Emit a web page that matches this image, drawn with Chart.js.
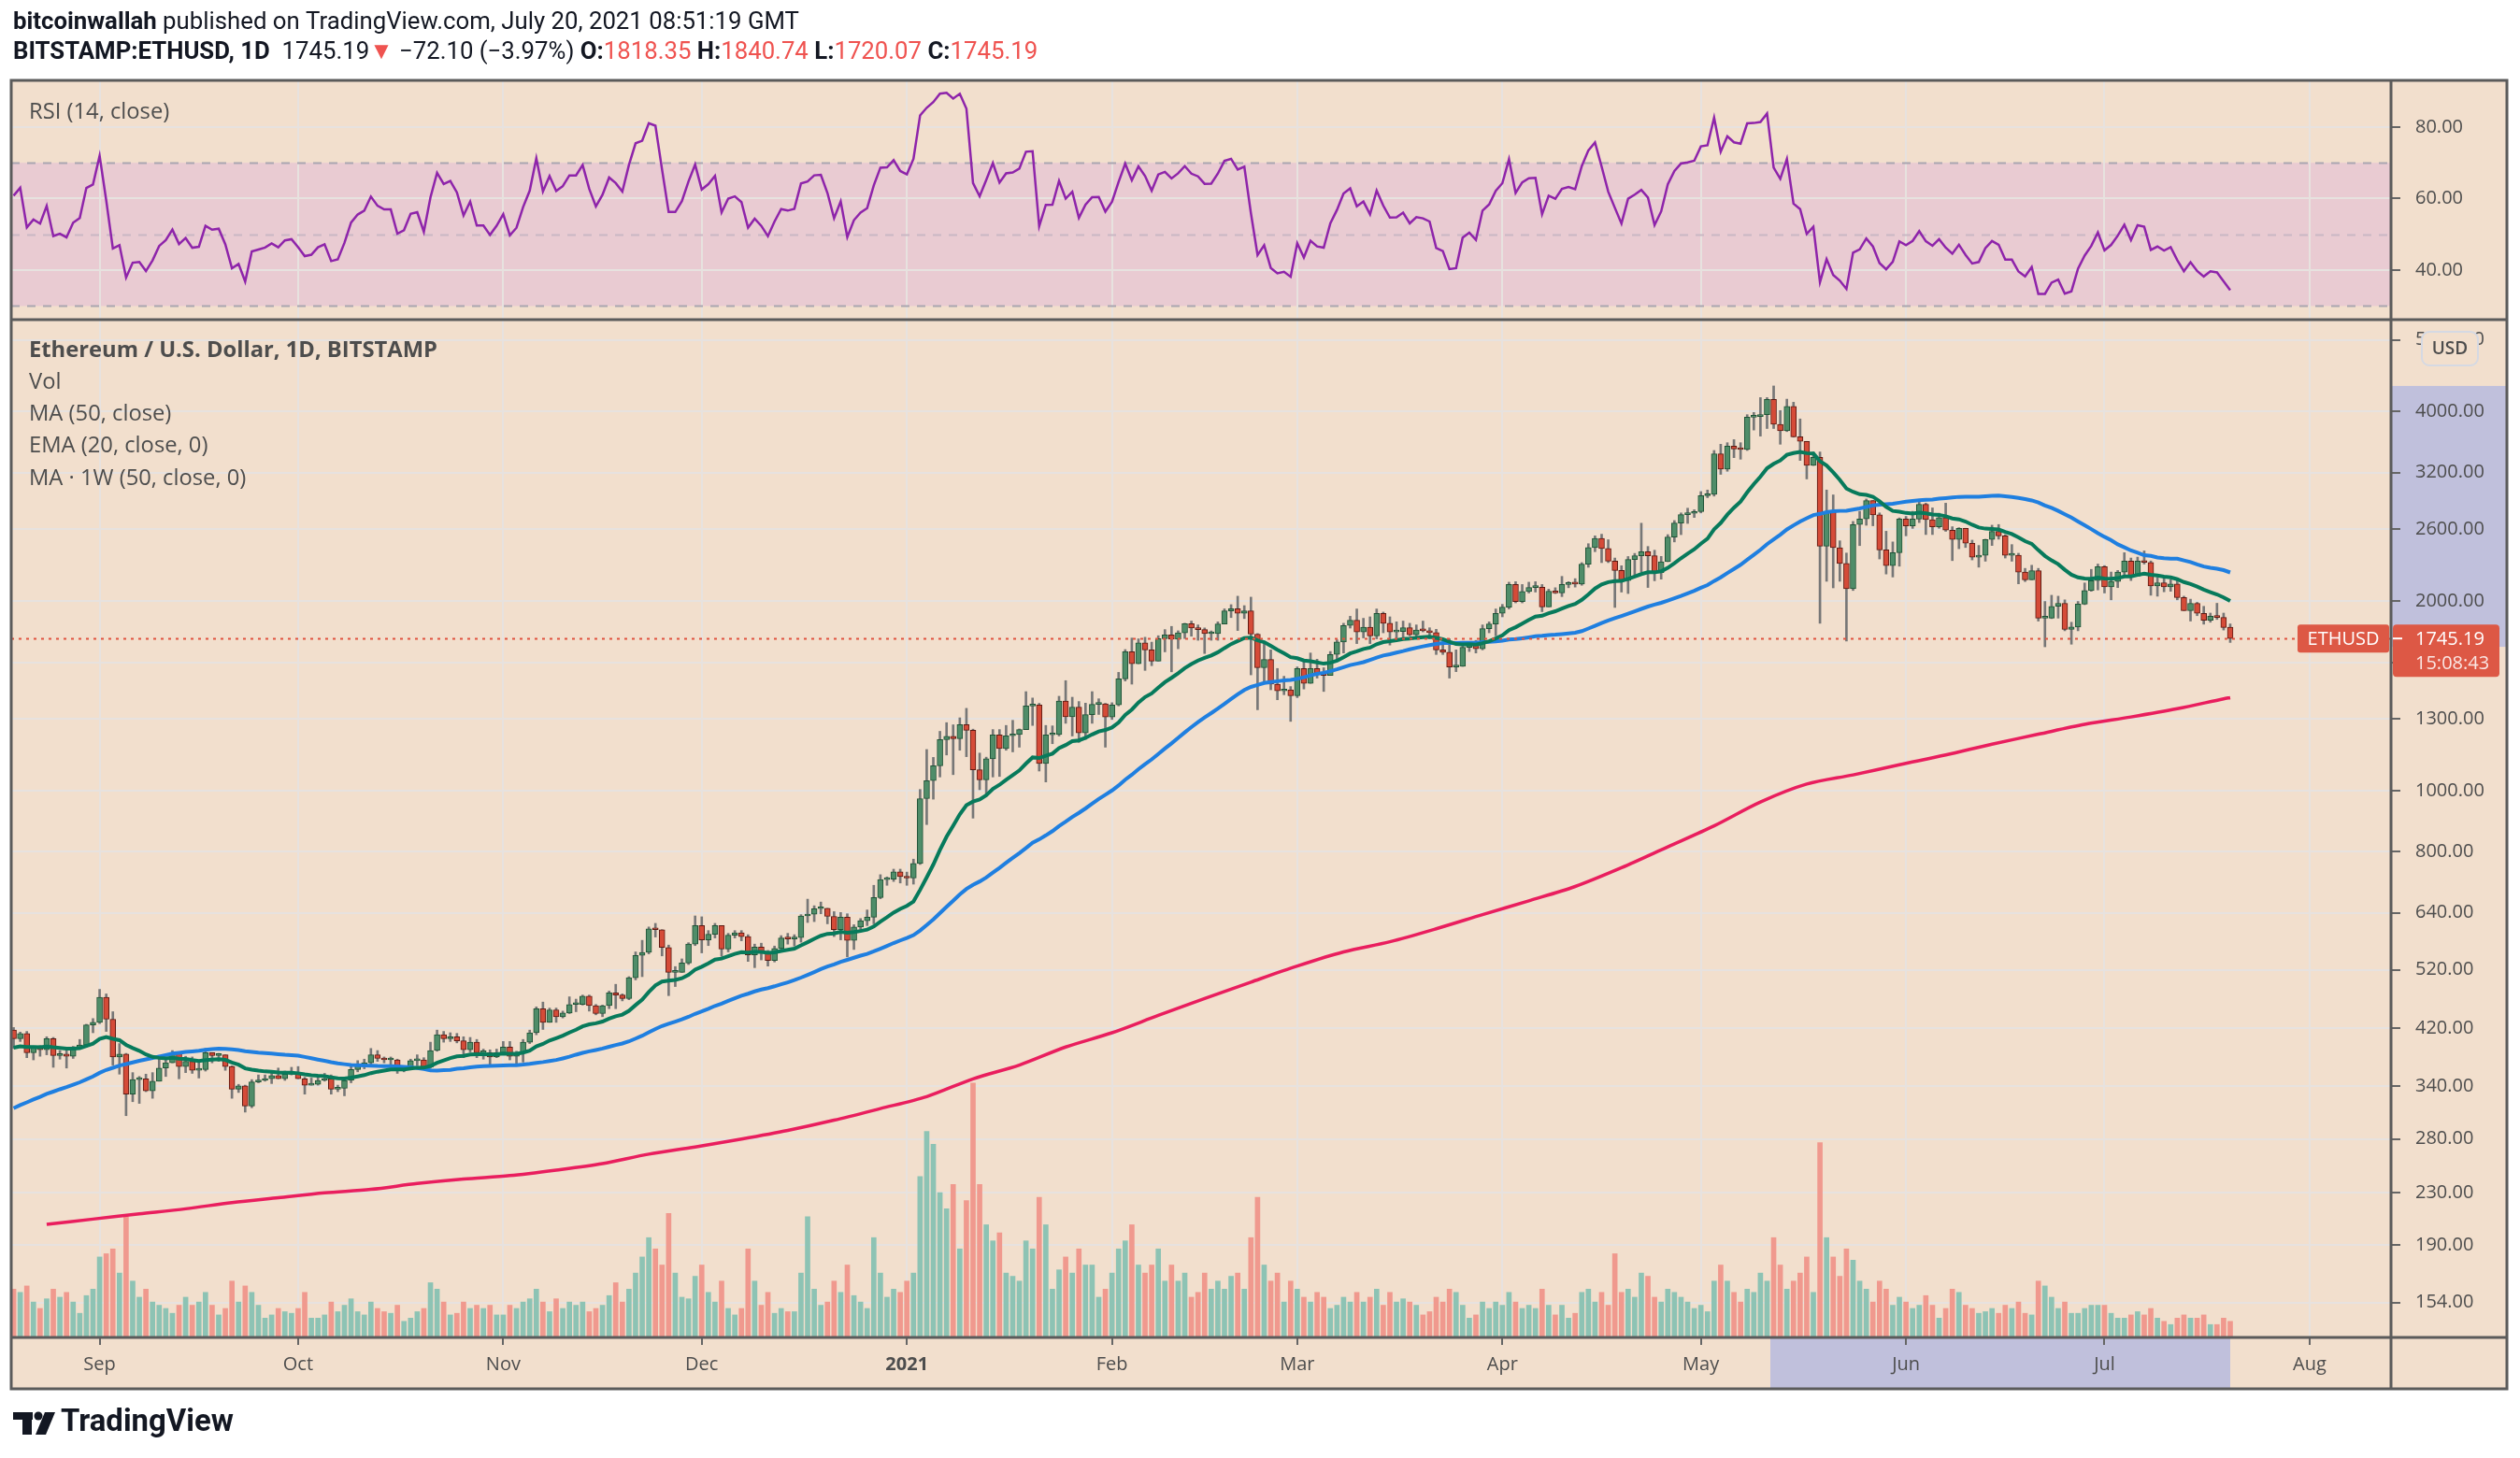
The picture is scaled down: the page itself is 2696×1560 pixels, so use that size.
<!DOCTYPE html>
<html>
<head>
<meta charset="utf-8">
<title>ETHUSD 1D</title>
<script src="https://cdn.jsdelivr.net/npm/chart.js@4.4.1/dist/chart.umd.min.js"></script>
<style>
  html, body { margin: 0; padding: 0; background: #fff; }
  canvas { display: block; }
</style>
</head>
<body>
<canvas id="chart" width="2696" height="1560"></canvas>
<script>
// Daily ETH/USD (Bitstamp), day 0 = 2020-08-19, last day = 2021-07-20

// closes Jul 1 - Aug 18 2020, only used to warm up MA / EMA / RSI
const priorClose = [
  231, 226, 225, 229, 227, 241, 239, 247, 242, 241, 239, 242, 239, 240, 238, 233,
  233, 236, 239, 236, 245, 263, 275, 279, 305, 310, 322, 317, 317, 335, 346,
  386, 371, 387, 389, 401, 395, 379, 390, 391, 395, 380, 391, 426, 437, 433, 434, 429, 417
];

const close = [
  // Aug 19-31
  404, 412, 384, 391, 388, 404, 380, 382, 379, 391, 395, 425, 429,
  // Sep
  470, 434, 378, 382, 330, 348, 349, 334, 346, 363, 370, 383, 365, 372, 360, 361, 384, 380, 381, 365,
  336, 340, 316, 345, 347, 349, 353, 349, 355, 356,
  // Oct
  349, 341, 342, 347, 349, 336, 337, 347, 361, 367, 370, 381, 376, 374, 374, 361, 363, 373, 374, 364,
  387, 410, 404, 407, 401, 388, 399, 384, 384, 378, 384,
  // Nov
  392, 379, 384, 399, 413, 451, 429, 449, 438, 444, 458, 458, 472, 456, 443, 456, 478, 474, 468, 505,
  548, 554, 604, 602, 564, 515, 515, 533, 571, 611,
  // Dec
  580, 592, 611, 561, 590, 595, 587, 549, 565, 554, 538, 562, 584, 582, 585, 633, 637, 650, 651, 632,
  602, 630, 579, 608, 622, 630, 677, 723, 724, 744, 731,
  // Jan 2021
  727, 767, 972, 1038, 1096, 1206, 1220, 1210, 1274, 1248, 1080, 1041, 1124, 1227, 1167, 1223, 1228, 1251, 1364, 1368,
  1105, 1227, 1228, 1388, 1311, 1358, 1236, 1321, 1372, 1374, 1310,
  // Feb
  1369, 1506, 1663, 1591, 1717, 1674, 1607, 1744, 1768, 1740, 1782, 1842, 1813, 1803, 1776, 1777, 1840, 1930, 1945, 1913,
  1931, 1773, 1569, 1616, 1477, 1441, 1447, 1416,
  // Mar
  1564, 1481, 1564, 1532, 1525, 1646, 1723, 1830, 1866, 1788, 1818, 1762, 1913, 1845, 1788, 1790, 1815, 1769, 1800, 1795,
  1783, 1674, 1660, 1573, 1576, 1690, 1710, 1681, 1809, 1840, 1913,
  // Apr
  1957, 2126, 1998, 2072, 2103, 2105, 1959, 2075, 2062, 2126, 2138, 2130, 2290, 2433, 2517, 2425, 2316, 2238, 2156, 2329,
  2361, 2397, 2362, 2221, 2311, 2528, 2662, 2745, 2758, 2776,
  // May
  2942, 2955, 3427, 3242, 3527, 3490, 3482, 3920, 3929, 3955, 4183, 3818, 3728, 4078, 3648, 3587, 3286, 3383, 2446, 2776,
  2432, 2296, 2094, 2647, 2702, 2889, 2742, 2413, 2278, 2388, 2702,
  // Jun
  2635, 2700, 2850, 2695, 2625, 2714, 2593, 2506, 2611, 2472, 2350, 2365, 2506, 2581, 2540, 2366, 2366, 2225, 2163, 2236,
  1880, 1880, 1963, 1985, 1804, 1820, 1979, 2079, 2156, 2269,
  // Jul
  2107, 2150, 2225, 2316, 2193, 2316, 2305, 2115, 2140, 2107, 2130, 2027, 1932, 1985, 1913, 1866, 1893, 1885, 1817.29, 1745.19
];

const high = [
  421, 414, 415, 392, 394, 407, 406, 387, 389, 393, 403, 426, 435,
  484, 476, 446, 397, 383, 357, 352, 355, 357, 377, 375, 387, 385, 379, 378, 370, 390, 384, 383, 381,
  366, 342, 341, 348, 354, 354, 357, 363, 359, 364,
  365, 351, 350, 352, 356, 354, 341, 351, 367, 373, 375, 390, 387, 378, 378, 375, 363, 375, 381, 377,
  399, 417, 415, 413, 412, 407, 406, 403, 389, 388, 389,
  400, 400, 386, 403, 417, 454, 462, 452, 452, 447, 471, 467, 474, 474, 458, 457, 481, 493, 476, 507,
  555, 579, 608, 616, 602, 569, 526, 541, 574, 633,
  631, 600, 616, 611, 594, 600, 600, 591, 571, 573, 558, 567, 589, 594, 591, 636, 673, 657, 666, 650,
  643, 641, 638, 613, 627, 647, 708, 736, 730, 751, 751,
  743, 779, 1005, 1163, 1130, 1243, 1283, 1273, 1306, 1352, 1253, 1148, 1131, 1251, 1251, 1270, 1294, 1254, 1437, 1404,
  1377, 1270, 1268, 1413, 1496, 1408, 1386, 1378, 1437, 1400, 1377,
  1380, 1542, 1676, 1748, 1743, 1753, 1722, 1763, 1803, 1824, 1795, 1845, 1860, 1834, 1814, 1794, 1855, 1945, 1975, 2037,
  1968, 2030, 1777, 1723, 1674, 1564, 1520, 1464,
  1573, 1614, 1655, 1618, 1568, 1664, 1737, 1845, 1893, 1944, 1879, 1889, 1944, 1922, 1889, 1855, 1860, 1845, 1834, 1860,
  1815, 1805, 1713, 1743, 1674, 1697, 1723, 1733, 1834, 1855, 1944,
  1977, 2144, 2148, 2126, 2144, 2148, 2126, 2090, 2101, 2190, 2148, 2172, 2303, 2468, 2540, 2555, 2504, 2342, 2277, 2355,
  2382, 2660, 2443, 2410, 2356, 2551, 2686, 2762, 2810, 2794,
  2986, 3003, 3470, 3550, 3570, 3610, 3570, 3955, 3987, 4210, 4210, 4393, 4015, 4186, 4139, 3894, 3570, 3451, 3451, 3003,
  2950, 2494, 2385, 2677, 2778, 2906, 2890, 2762, 2583, 2484, 2712,
  2727, 2778, 2888, 2862, 2813, 2759, 2862, 2626, 2617, 2611, 2500, 2452, 2509, 2641, 2647, 2551, 2460, 2383, 2255, 2281,
  2255, 1998, 2044, 2037, 2010, 1852, 1998, 2138, 2247, 2291,
  2278, 2225, 2238, 2388, 2342, 2350, 2404, 2317, 2182, 2190, 2163, 2172, 2037, 2015, 1992, 1963, 1915, 1985, 1915, 1840.74
];

const low = [
  390, 400, 377, 374, 379, 381, 364, 375, 363, 376, 389, 392, 413,
  427, 415, 367, 355, 305, 321, 319, 333, 325, 346, 352, 374, 349, 357, 356, 350, 359, 370, 372, 360,
  325, 332, 309, 314, 344, 346, 343, 349, 347, 354,
  349, 330, 341, 341, 346, 330, 333, 328, 344, 358, 362, 368, 372, 370, 365, 356, 358, 362, 366, 361,
  363, 386, 399, 400, 398, 377, 385, 377, 375, 368, 377,
  386, 374, 366, 371, 397, 410, 418, 438, 429, 436, 443, 446, 457, 447, 441, 438, 451, 451, 464, 466,
  501, 507, 551, 586, 547, 473, 489, 515, 530, 568,
  553, 568, 584, 546, 555, 584, 578, 536, 524, 539, 527, 535, 558, 571, 567, 575, 618, 620, 638, 615,
  587, 580, 545, 560, 598, 611, 615, 674, 708, 718, 714,
  708, 711, 764, 884, 970, 1052, 1140, 1061, 1160, 1133, 905, 1004, 983, 1052, 1054, 1160, 1153, 1173, 1262, 1270,
  1075, 1033, 1188, 1222, 1280, 1222, 1194, 1207, 1280, 1322, 1173,
  1298, 1364, 1494, 1477, 1650, 1553, 1580, 1643, 1662, 1545, 1681, 1745, 1760, 1734, 1652, 1734, 1734, 1845, 1884, 1797,
  1877, 1528, 1345, 1494, 1447, 1395, 1421, 1289,
  1406, 1451, 1485, 1510, 1438, 1528, 1618, 1655, 1813, 1713, 1749, 1713, 1743, 1782, 1704, 1743, 1737, 1762, 1743, 1788,
  1743, 1646, 1646, 1510, 1546, 1628, 1664, 1655, 1674, 1782, 1762,
  1889, 1944, 1988, 1988, 2061, 2068, 1925, 1998, 2057, 2034, 2101, 2106, 2120, 2264, 2397, 2303, 2303, 1955, 2068, 2057,
  2187, 2225, 2103, 2155, 2168, 2316, 2484, 2551, 2658, 2716,
  2762, 2920, 2937, 3180, 3216, 3380, 3361, 3470, 3739, 3657, 3760, 3760, 3550, 3718, 3643, 3346, 3127, 3284, 1845, 2151,
  2100, 2151, 1729, 2080, 2451, 2640, 2635, 2334, 2209, 2185, 2273,
  2540, 2610, 2666, 2552, 2552, 2611, 2582, 2320, 2423, 2434, 2326, 2265, 2315, 2452, 2509, 2342, 2315, 2131, 2149, 2163,
  1860, 1693, 1877, 1880, 1795, 1709, 1795, 1975, 2074, 2084,
  2061, 2010, 2102, 2182, 2157, 2225, 2291, 2044, 2037, 2070, 2074, 2010, 1932, 1860, 1897, 1839, 1852, 1871, 1800, 1720.07
];

// daily volume, thousand ETH (read as relative bar heights)
const volume = [
  30, 28, 32, 22, 18, 24, 30, 25, 28, 22, 15, 26, 30,
  50, 52, 55, 40, 75, 35, 25, 30, 22, 20, 18, 15, 20, 25, 20, 22, 28, 20, 14, 18,
  35, 22, 32, 28, 20, 12, 14, 18, 16, 15,
  18, 28, 12, 12, 14, 22, 16, 20, 24, 16, 14, 22, 18, 16, 15, 20, 10, 12, 16, 18,
  34, 30, 22, 14, 15, 22, 18, 20, 18, 20, 14,
  14, 20, 18, 22, 24, 30, 22, 16, 24, 18, 22, 20, 22, 16, 18, 20, 26, 34, 22, 30,
  40, 50, 62, 55, 45, 77, 40, 25, 24, 38,
  45, 28, 22, 35, 18, 14, 18, 55, 35, 20, 28, 15, 18, 16, 16, 40, 75, 30, 20, 22,
  35, 28, 45, 26, 22, 18, 62, 40, 25, 30, 28,
  35, 40, 100, 128, 120, 90, 80, 95, 55, 85, 158, 95, 70, 60, 65, 40, 38, 35, 60, 55,
  87, 70, 30, 42, 50, 40, 55, 45, 45, 25, 30,
  40, 55, 60, 70, 45, 40, 45, 55, 35, 45, 35, 40, 25, 28, 40, 30, 35, 30, 38, 40,
  30, 62, 87, 45, 35, 40, 22, 35,
  30, 25, 22, 28, 25, 18, 20, 25, 22, 28, 22, 25, 30, 20, 28, 22, 24, 22, 20, 14,
  16, 25, 22, 30, 28, 20, 12, 14, 22, 18, 22,
  20, 28, 22, 18, 20, 18, 30, 20, 14, 20, 12, 15, 28, 30, 22, 28, 20, 52, 28, 30,
  25, 40, 38, 25, 22, 30, 28, 25, 22, 18,
  20, 16, 35, 45, 35, 28, 22, 30, 28, 40, 35, 62, 45, 30, 35, 40, 50, 28, 121, 62,
  50, 38, 55, 48, 35, 30, 22, 35, 30, 20, 25,
  22, 18, 20, 26, 20, 12, 18, 30, 28, 20, 18, 15, 16, 18, 15, 20, 18, 22, 15, 14,
  35, 32, 25, 18, 22, 15, 15, 18, 20, 20,
  20, 15, 12, 12, 14, 16, 14, 18, 12, 10, 8, 12, 14, 12, 12, 14, 8, 8, 12, 10
];

// 50-week MA of the weekly close, read at each Monday (day index)
const weeklyMaDay = [5, 12, 19, 26, 33, 40, 47, 54, 61, 68, 75, 82, 89, 96, 103, 110, 117, 124, 131, 138,
  145, 152, 159, 166, 173, 180, 187, 194, 201, 208, 215, 222, 229, 236, 243, 250, 257, 264, 271, 278,
  285, 292, 299, 306, 313, 320, 327, 334, 335];
const weeklyMa = [205, 209, 213, 217, 222, 226, 230, 233, 238, 242, 245, 250, 256, 265, 272, 280, 289, 300, 313, 327,
  349, 367, 392, 413, 440, 468, 497, 527, 555, 576, 604, 636, 669, 705, 755, 815, 880, 960, 1025, 1060,
  1100, 1140, 1186, 1230, 1275, 1310, 1350, 1400, 1406];

const lastOpen = 1818.35;

const monthDays = [13, 43, 74, 104, 135, 166, 194, 225, 255, 286, 316, 347];
const monthLabels = ['Sep', 'Oct', 'Nov', 'Dec', '2021', 'Feb', 'Mar', 'Apr', 'May', 'Jun', 'Jul', 'Aug'];
const priceTicks = [154, 190, 230, 280, 340, 420, 520, 640, 800, 1000, 1300, 1600, 2000, 2600, 3200, 4000, 5200];
const rsiTicks = [40, 60, 80];

// selected range shown on the axes (May 12 -> last bar)
const selFrom = 265, selTo = 335;

// ---------- indicators ----------
function sma(src, n) {
  return src.map((_, i) => i < n - 1 ? null : src.slice(i - n + 1, i + 1).reduce((a, b) => a + b, 0) / n);
}
function ema(src, n) {
  const k = 2 / (n + 1);
  let e = null;
  return src.map((v, i) => {
    if (i < n - 1) return null;
    e = e === null ? src.slice(0, n).reduce((a, b) => a + b, 0) / n : v * k + e * (1 - k);
    return e;
  });
}
function rsi(src, n) {
  const out = [null];
  let g = 0, l = 0;
  for (let i = 1; i < src.length; i++) {
    const d = src[i] - src[i - 1];
    const up = Math.max(d, 0), dn = Math.max(-d, 0);
    if (i <= n) {
      g += up / n; l += dn / n;
      out.push(i === n ? 100 - 100 / (1 + g / l) : null);
    } else {
      g = (g * (n - 1) + up) / n;
      l = (l * (n - 1) + dn) / n;
      out.push(l === 0 ? 100 : 100 - 100 / (1 + g / l));
    }
  }
  return out;
}

const allClose = priorClose.concat(close);
const skip = priorClose.length;
const ma50 = sma(allClose, 50).slice(skip);
const ema20 = ema(allClose, 20).slice(skip);
const rsi14 = rsi(allClose, 14).slice(skip);

const days = close.map((_, i) => i);
const open = close.map((c, i) => i === 0 ? priorClose[skip - 1] : close[i - 1]);
open[open.length - 1] = lastOpen;
const isUp = days.map(i => close[i] >= open[i]);

// ---------- styling ----------
const BG = '#f2dfcd';
const GRID = '#e7e2df';
const FRAME = '#5b5b5b';
const TEXT = '#4d4d4d';
const RED = '#ef5350';
const HILITE = '#c0c0dc';
const AXIS_FONT = 'Open Sans';

const fmt = v => v.toFixed(2).replace('-', '\u2212');

const n = close.length - 1;
const chg = close[n] - close[n - 1];
const pct = chg / close[n - 1] * 100;

const header1 = [
  ['bitcoinwallah', 'bold', '#131722'],
  [' published on TradingView.com, July 20, 2021 08:51:19 GMT', 'normal', '#131722']
];
const header2 = [
  ['BITSTAMP:ETHUSD, 1D', 'bold', '#131722'],
  ['  ' + fmt(close[n]), 'normal', '#131722'],
  [chg < 0 ? '\u25BC' : '\u25B2', 'normal', RED],
  [' ' + fmt(chg) + ' (' + fmt(pct) + '%) ', 'normal', '#131722'],
  ['O:', 'bold', '#131722'], [fmt(open[n]), 'normal', RED],
  [' H:', 'bold', '#131722'], [fmt(high[n]), 'normal', RED],
  [' L:', 'bold', '#131722'], [fmt(low[n]), 'normal', RED],
  [' C:', 'bold', '#131722'], [fmt(close[n]), 'normal', RED]
];
const legendLines = ['Vol', 'MA (50, close)', 'EMA (20, close, 0)', 'MA \u00B7 1W (50, close, 0)'];

function runsWidth(ctx, runs, size, family) {
  let w = 0;
  runs.forEach(([t, weight]) => { ctx.font = `${weight} ${size}px ${family}`; w += ctx.measureText(t).width; });
  return w;
}
function drawRuns(ctx, runs, x, y, size, family) {
  runs.forEach(([t, weight, color]) => {
    ctx.font = `${weight} ${size}px ${family}`;
    ctx.fillStyle = color;
    ctx.fillText(t, x, y);
    x += ctx.measureText(t).width;
  });
}
function roundRect(ctx, x, y, w, h, r) {
  ctx.beginPath();
  ctx.moveTo(x + r, y);
  ctx.arcTo(x + w, y, x + w, y + h, r);
  ctx.arcTo(x + w, y + h, x, y + h, r);
  ctx.arcTo(x, y + h, x, y, r);
  ctx.arcTo(x, y, x + w, y, r);
  ctx.closePath();
}

const panes = {
  id: 'panes',
  beforeDraw(chart) {
    const { ctx, chartArea: a, scales } = chart;
    const p = scales.yPrice, r = scales.yRsi, x = scales.x;
    ctx.save();
    ctx.fillStyle = '#fff';
    ctx.fillRect(0, 0, chart.width, chart.height);
    ctx.fillStyle = BG;
    ctx.fillRect(a.left, a.top, p.right - a.left, x.bottom - a.top);
    // RSI 30-70 band
    ctx.fillStyle = '#e9cbd2';
    const y70 = r.getPixelForValue(70), y30 = r.getPixelForValue(30);
    ctx.fillRect(a.left, y70, a.right - a.left, y30 - y70);
    // selection highlight on time and price axes
    let hi = 0, lo = Infinity;
    for (let i = selFrom; i <= selTo; i++) { hi = Math.max(hi, high[i]); lo = Math.min(lo, low[i]); }
    ctx.fillStyle = HILITE;
    const hx0 = x.getPixelForValue(selFrom + 0.5), hx1 = x.getPixelForValue(selTo);
    ctx.fillRect(hx0, a.bottom, hx1 - hx0, x.bottom - a.bottom);
    const hy0 = p.getPixelForValue(hi), hy1 = p.getPixelForValue(lo);
    ctx.fillRect(p.left, hy0, p.right - p.left, hy1 - hy0);
    ctx.restore();
  },
  beforeDatasetsDraw(chart) {
    const { ctx, chartArea: a, scales } = chart;
    const r = scales.yRsi;
    ctx.save();
    ctx.lineWidth = 2;
    ctx.setLineDash([9, 8]);
    [[70, '#a9a6b0'], [50, '#c9b8c4'], [30, '#a9a6b0']].forEach(([v, c]) => {
      const y = Math.round(r.getPixelForValue(v)) + 0.5;
      ctx.strokeStyle = c;
      ctx.beginPath(); ctx.moveTo(a.left, y); ctx.lineTo(a.right, y); ctx.stroke();
    });
    ctx.restore();
  },
  afterDatasetsDraw(chart) {
    const { ctx, chartArea: a, scales } = chart;
    const y = Math.round(scales.yPrice.getPixelForValue(close[n])) + 0.5;
    ctx.save();
    ctx.strokeStyle = '#e0533f';
    ctx.lineWidth = 2;
    ctx.setLineDash([3, 5]);
    ctx.beginPath(); ctx.moveTo(a.left, y); ctx.lineTo(a.right, y); ctx.stroke();
    ctx.restore();
  },
  afterDraw(chart) {
    const { ctx, chartArea: a, scales } = chart;
    const p = scales.yPrice, r = scales.yRsi, x = scales.x;
    ctx.save();

    // frame
    ctx.strokeStyle = FRAME;
    ctx.lineWidth = 3;
    ctx.strokeRect(a.left, a.top, p.right - a.left, x.bottom - a.top);
    ctx.beginPath();
    ctx.moveTo(a.left, r.bottom); ctx.lineTo(p.right, r.bottom);
    ctx.moveTo(a.left, a.bottom); ctx.lineTo(p.right, a.bottom);
    ctx.moveTo(a.right, a.top); ctx.lineTo(a.right, x.bottom);
    ctx.stroke();

    // last price labels
    const yl = p.getPixelForValue(close[n]);
    ctx.fillStyle = '#dd5845';
    roundRect(ctx, a.right - 100, yl - 15, 98, 30, 3); ctx.fill();
    roundRect(ctx, a.right + 2, yl - 15, 114, 56, 4); ctx.fill();
    ctx.fillStyle = '#fff';
    ctx.textBaseline = 'middle';
    ctx.font = `20px ${AXIS_FONT}`;
    ctx.textAlign = 'center';
    ctx.fillText('ETHUSD', a.right - 51, yl + 1);
    ctx.textAlign = 'left';
    ctx.fillText(close[n].toFixed(2), a.right + 26, yl + 1);
    ctx.fillStyle = 'rgba(255,255,255,0.85)';
    ctx.fillText('15:08:43', a.right + 26, yl + 27);
    ctx.strokeStyle = '#fff';
    ctx.lineWidth = 2;
    ctx.beginPath(); ctx.moveTo(a.right + 2, yl); ctx.lineTo(a.right + 12, yl); ctx.stroke();

    // currency badge
    const yu = p.top + 31;
    ctx.fillStyle = BG;
    ctx.strokeStyle = '#d5d9e3';
    ctx.lineWidth = 2;
    roundRect(ctx, a.right + 33, yu - 18, 60, 36, 8); ctx.fill(); ctx.stroke();
    ctx.fillStyle = TEXT;
    ctx.textAlign = 'center';
    ctx.font = `600 19px ${AXIS_FONT}`;
    ctx.fillText('USD', a.right + 63, yu + 1);

    // header
    ctx.textAlign = 'left';
    const hSize = 100 * 841 / runsWidth(ctx, header1, 100, 'Roboto');
    drawRuns(ctx, header1, 14, 25, hSize, 'Roboto');
    drawRuns(ctx, header2, 14, 57, hSize, 'Roboto');

    // pane legends
    const legendTitle = [['Ethereum / U.S. Dollar, 1D, BITSTAMP', 'bold', TEXT]];
    const lSize = 100 * 437 / runsWidth(ctx, legendTitle, 100, AXIS_FONT);
    drawRuns(ctx, [['RSI (14, close)', 'normal', TEXT]], a.left + 19, r.top + 34, lSize, AXIS_FONT);
    drawRuns(ctx, legendTitle, a.left + 19, p.top + 33, lSize, AXIS_FONT);
    legendLines.forEach((t, i) => drawRuns(ctx, [[t, 'normal', TEXT]], a.left + 19, p.top + 67 + i * 34.3, lSize, AXIS_FONT));

    // TradingView mark
    ctx.fillStyle = '#131722';
    ctx.fillRect(14, 1511, 21, 8);
    ctx.fillRect(24, 1511, 10, 24);
    ctx.beginPath(); ctx.arc(41, 1515, 4.5, 0, Math.PI * 2); ctx.fill();
    ctx.beginPath();
    ctx.moveTo(48, 1511); ctx.lineTo(59, 1511); ctx.lineTo(49, 1535); ctx.lineTo(38, 1535);
    ctx.closePath(); ctx.fill();
    const tvRun = [['TradingView', 'bold', '#131722']];
    drawRuns(ctx, tvRun, 65, 1523, 100 * 185 / runsWidth(ctx, tvRun, 100, 'Roboto'), 'Roboto');
    ctx.restore();
  }
};

const tickFont = { family: AXIS_FONT, size: 20 };

new Chart(document.getElementById('chart'), {
  type: 'bar',
  data: {
    datasets: [
      {
        type: 'line', label: 'RSI', yAxisID: 'yRsi', order: 0,
        data: days.map(i => ({ x: i, y: rsi14[i] })),
        borderColor: '#8e24aa', borderWidth: 2.5, pointRadius: 0, tension: 0
      },
      {
        type: 'line', label: 'EMA 20', yAxisID: 'yPrice', order: 0,
        data: days.map(i => ({ x: i, y: ema20[i] })),
        borderColor: '#077a5b', borderWidth: 4, pointRadius: 0, tension: 0
      },
      {
        type: 'line', label: 'MA 50', yAxisID: 'yPrice', order: 0,
        data: days.map(i => ({ x: i, y: ma50[i] })),
        borderColor: '#1f7fe0', borderWidth: 4, pointRadius: 0, tension: 0
      },
      {
        type: 'line', label: 'MA 1W 50', yAxisID: 'yPrice', order: 0,
        data: weeklyMaDay.map((d, i) => ({ x: d, y: weeklyMa[i] })),
        borderColor: '#e91e5e', borderWidth: 3.5, pointRadius: 0, tension: 0.3
      },
      {
        label: 'Body', yAxisID: 'yPrice', order: 1, grouped: false,
        data: days.map(i => ({ x: i, y: [open[i], close[i]] })),
        backgroundColor: days.map(i => isUp[i] ? '#4f8d69' : '#d54b38'),
        borderColor: days.map(i => isUp[i] ? '#1f5336' : '#5e1a12'),
        borderWidth: 1, borderSkipped: false, barThickness: 6, minBarLength: 2
      },
      {
        label: 'Wick', yAxisID: 'yPrice', order: 2, grouped: false,
        data: days.map(i => ({
          x: i,
          y: [Math.min(low[i], open[i], close[i]), Math.max(high[i], open[i], close[i])]
        })),
        backgroundColor: '#777777', barThickness: 2
      },
      {
        label: 'Vol', yAxisID: 'yVol', order: 3, grouped: false,
        data: days.map(i => ({ x: i, y: volume[i] })),
        backgroundColor: days.map(i => isUp[i] ? '#8dc3b4' : '#f0998e'),
        barThickness: 5
      }
    ]
  },
  options: {
    responsive: false,
    animation: false,
    devicePixelRatio: 1,
    events: [],
    layout: { padding: { left: 12, top: 86, right: 14, bottom: 74 } },
    plugins: { legend: { display: false }, tooltip: { enabled: false } },
    scales: {
      x: {
        type: 'linear', position: 'bottom', min: -0.36, max: 359.3, offset: false,
        afterBuildTicks: s => { s.ticks = monthDays.map(v => ({ value: v })); },
        afterFit: s => { s.height = 55; },
        ticks: {
          autoSkip: false, maxRotation: 0, padding: 9, color: TEXT,
          font: c => ({ family: AXIS_FONT, size: 20, weight: c.tick && c.tick.value === 135 ? 'bold' : 'normal' }),
          callback: v => monthLabels[monthDays.indexOf(v)] || ''
        },
        grid: { offset: false, color: GRID, lineWidth: 2, tickLength: 8, tickColor: '#666', tickWidth: 2 },
        border: { display: false }
      },
      yRsi: {
        type: 'linear', position: 'right', stack: 'panes', stackWeight: 256, min: 26.2, max: 93,
        afterBuildTicks: s => { s.ticks = rsiTicks.map(v => ({ value: v })); },
        afterFit: s => { s.width = 124; },
        ticks: { padding: 16, color: TEXT, font: tickFont, callback: v => v.toFixed(2) },
        grid: { color: GRID, lineWidth: 2, tickLength: 10, tickColor: '#666', tickWidth: 2 },
        border: { display: false }
      },
      yPrice: {
        type: 'logarithmic', position: 'right', stack: 'panes', stackWeight: 1089, min: 135.6, max: 5598,
        afterBuildTicks: s => { s.ticks = priceTicks.map(v => ({ value: v })); },
        afterFit: s => { s.width = 124; },
        ticks: { padding: 16, color: TEXT, font: tickFont, callback: v => Number(v).toFixed(2) },
        grid: { color: GRID, lineWidth: 2, tickLength: 10, tickColor: '#666', tickWidth: 2 },
        border: { display: false }
      },
      yVol: { type: 'linear', display: false, min: 0, max: 781 }
    }
  },
  plugins: [panes]
});
</script>
</body>
</html>
